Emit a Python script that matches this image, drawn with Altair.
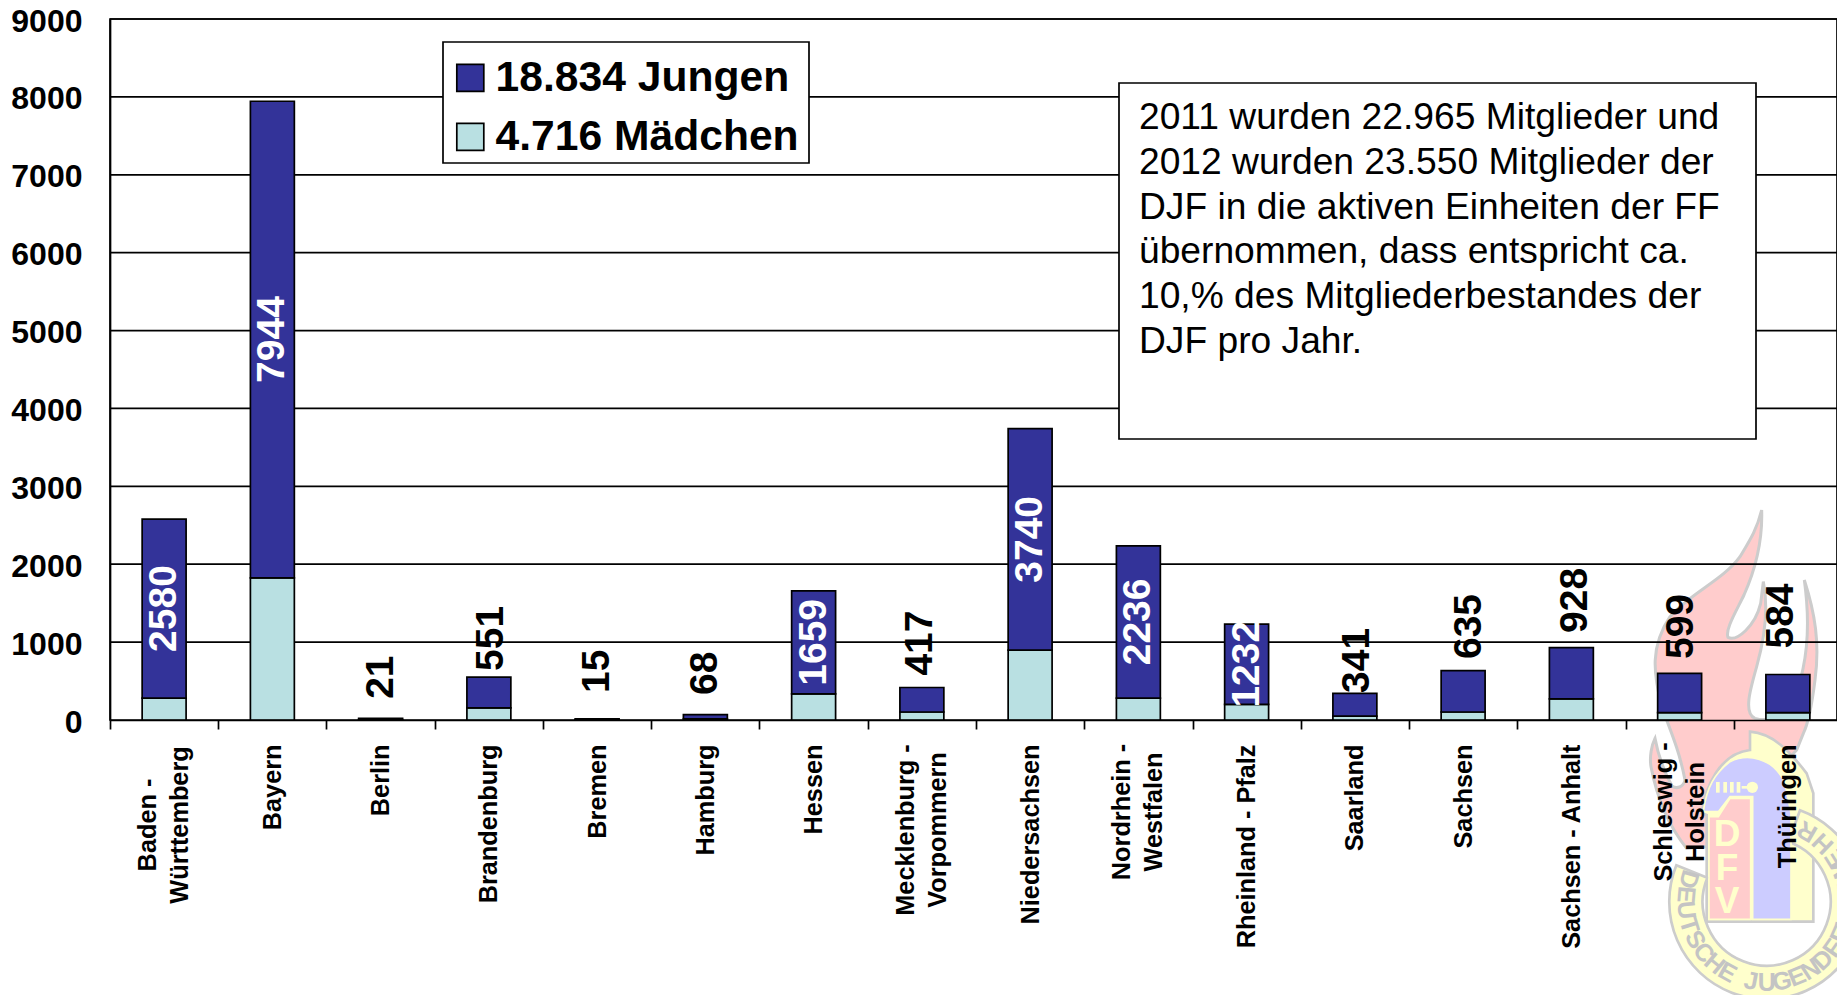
import base64
import math
import altair as alt
import pandas as pd

FONT = "Liberation Sans"

categories = ["Baden - Württemberg", "Bayern", "Berlin", "Brandenburg", "Bremen", "Hamburg",
              "Hessen", "Mecklenburg - Vorpommern", "Niedersachsen", "Nordrhein - Westfalen",
              "Rheinland - Pfalz", "Saarland", "Sachsen", "Sachsen - Anhalt",
              "Schleswig - Holstein", "Thüringen"]
totals = [2580, 7944, 21, 551, 15, 68, 1659, 417, 3740, 2236, 1232, 341, 635, 928, 599, 584]
girls = [282, 1825, 5, 155, 3, 15, 335, 103, 898, 282, 201, 51, 103, 270, 94, 94]
outside_label_center = {"Berlin": 550, "Brandenburg": 1048, "Bremen": 625, "Hamburg": 600,
                        "Mecklenburg - Vorpommern": 988, "Saarland": 765, "Sachsen": 1200,
                        "Sachsen - Anhalt": 1535, "Schleswig - Holstein": 1200, "Thüringen": 1335}
outside_label_nudge = {"Brandenburg": 2, "Mecklenburg - Vorpommern": -2, "Saarland": 2, "Sachsen": 6,
                       "Sachsen - Anhalt": 3.5, "Schleswig - Holstein": 1, "Thüringen": -7}
y_ticks = [0, 1000, 2000, 3000, 4000, 5000, 6000, 7000, 8000, 9000]
series = ["18.834 Jungen", "4.716 Mädchen"]
note_lines = ["2011 wurden 22.965 Mitglieder und", "2012 wurden 23.550 Mitglieder der",
              "DJF in die aktiven Einheiten der FF", "übernommen, dass entspricht ca.",
              "10,% des Mitgliederbestandes der", "DJF pro Jahr."]

boys = [t - g for t, g in zip(totals, girls)]
rows = []
for c, b, g in zip(categories, boys, girls):
    rows.append({"cat": c, "series": series[1], "v": g, "o": 0})
    rows.append({"cat": c, "series": series[0], "v": b, "o": 1})
bars_df = pd.DataFrame(rows)

labels_df = pd.DataFrame({"cat": categories, "total": totals, "girls": girls})
labels_df["mid"] = (labels_df.total + labels_df.girls) / 2
inside_df = labels_df[~labels_df.cat.isin(outside_label_center)]
outside_df = labels_df[labels_df.cat.isin(outside_label_center)].copy()
outside_df["pos"] = outside_df.cat.map(outside_label_center)

OX, OY = 110, 19
x_scale = alt.Scale(domain=categories, range=[0, 1732], paddingInner=0.594, paddingOuter=0.297)
y_scale = alt.Scale(domain=[0, 9000], nice=False)
LW = 1.7

two_line = {"Baden - Württemberg": 825, "Mecklenburg - Vorpommern": 830,
            "Nordrhein - Westfalen": 812, "Schleswig - Holstein": 812}
hidden = "[" + ",".join(f"'{c}'" for c in two_line) + "]"

x_axis = alt.Axis(
    tickOffset=-54.125, labelOffset=54.125, tickSize=9, tickWidth=LW, tickColor="black", domainColor="black",
    domainWidth=LW, labelAngle=270, labelAlign="right", labelBaseline="middle",
    labelFont=FONT, labelFontWeight="bold", labelFontSize=25.3, labelColor="black",
    labelPadding=15, labelLimit=400, labelOverlap=False, grid=False, zindex=1,
    labelExpr=f"indexof({hidden}, datum.label) < 0 ? datum.label : ''",
)
y_axis = alt.Axis(
    values=y_ticks, tickSize=0, domainColor="black", domainWidth=LW, labelPadding=28, labelOffset=2,
    labelFont=FONT, labelFontWeight="bold", labelFontSize=32, labelColor="black",
    grid=False, format="d", zindex=1,
)

# ---- watermark emblem (shapes only); its letters are real text further below
CX, CY, R_OUT, R_IN = 380, 515, 292, 192


def pt(phi, r):
    a = math.radians(phi)
    return CX + r * math.sin(a), CY + r * math.cos(a)


a0, a1 = -112, 160
p1, p2, p3, p4 = pt(a0, R_OUT), pt(a1, R_OUT), pt(a1, R_IN), pt(a0, R_IN)
ring = (f"M{p1[0]:.0f} {p1[1]:.0f} A{R_OUT} {R_OUT} 0 1 0 {p2[0]:.0f} {p2[1]:.0f} "
        f"L{p3[0]:.0f} {p3[1]:.0f} A{R_IN} {R_IN} 0 1 1 {p4[0]:.0f} {p4[1]:.0f} Z")
flame = ("M365 30 C368 120 350 200 312 285 C285 340 255 390 264 412 C290 425 345 380 362 310 L370 245 "
         "C385 320 375 410 350 500 C330 570 310 640 345 655 C400 670 440 640 470 580 "
         "C495 500 515 400 493 240 C525 340 540 430 525 540 C515 620 500 680 490 700 L470 750 "
         "L200 1040 L140 1045 C80 970 50 890 33 800 C28 770 35 735 45 715 C55 770 75 820 96 858 "
         "C110 868 130 862 135 840 C120 760 95 700 65 620 C40 520 30 440 90 350 C150 280 250 240 300 170 "
         "C330 120 350 90 365 30 Z")
shield = "M330 695 C400 700 450 755 500 820 L520 880 L520 1265 L200 1265 L200 945 L185 940 C195 860 240 760 330 750 Z"
blue = ("M190 935 C200 860 225 820 270 785 C320 760 400 770 435 850 L453 940 L453 1258 L338 1258 "
        "L338 890 L270 890 L235 935 Z")
pink = "M207 950 L235 950 L270 895 L332 895 L332 1258 L207 1258 Z"
dashes = "".join(f'<rect x="{x}" y="846" width="11" height="32" fill="#FFFFCC"/>' for x in (228, 250, 270, 290))
svg = f"""<svg xmlns="http://www.w3.org/2000/svg" width="205" height="495" viewBox="0 0 615 1485">
<path d="{flame}" fill="#FFCCCC" stroke="#CCCCCC" stroke-width="9"/>
<path d="{shield}" fill="#FFFFCC" stroke="#CCCCCC" stroke-width="8"/>
<g transform="translate(0,690)"><path d="{ring}" fill="#FFFFCC" stroke="#CCCCCC" stroke-width="8"/></g>
<path d="{blue}" fill="#CCCCFF" stroke="#FFFFCC" stroke-width="5"/>
<path d="{pink}" fill="#FFCCCC" stroke="#FFFFCC" stroke-width="5"/>
{dashes}<rect x="305" y="858" width="20" height="8" fill="#FFFFCC"/><circle cx="337" cy="862" r="17" fill="#FFFFCC"/>
</svg>"""
uri = "data:image/svg+xml;base64," + base64.b64encode(svg.encode()).decode()
logo = alt.Chart(pd.DataFrame({"u": [uri]})).mark_image(
    width=205, height=495, align="left", baseline="top"
).encode(url="u:N", x=alt.value(1640 - OX), y=alt.value(500 - OY))

logo_text_layers = []
ring_letters = list("DEUTSCHE") + list("JUGENDFEUERWEHR")
ring_angles = [-106, -95, -84, -73, -62, -51, -40, -29, -11, 0, 11, 22, 33, 44, 55, 66, 77, 88, 99, 110, 122, 136, 150]
for ch, phi in zip(ring_letters, ring_angles):
    px, py = pt(phi, 243)
    sx = 1640 + px / 3 - OX
    sy = 730 + py / 3 - OY
    logo_text_layers.append(
        alt.Chart(pd.DataFrame({"t": [ch]})).mark_text(
            font=FONT, fontWeight="bold", fontSize=25, color="#C4C4C4", angle=(-phi) % 360,
            align="center", baseline="middle"
        ).encode(text="t:N", x=alt.value(sx), y=alt.value(sy))
    )
for ch, sy in zip("DFV", (835, 869, 902)):
    logo_text_layers.append(
        alt.Chart(pd.DataFrame({"t": [ch]})).mark_text(
            font=FONT, fontWeight="bold", fontSize=37, color="#FFFFCC", align="center", baseline="middle"
        ).encode(text="t:N", x=alt.value(1727 - OX), y=alt.value(sy - OY))
    )

# ---- grid
grid = alt.Chart(pd.DataFrame({"v": y_ticks[1:]})).mark_rule(color="black", strokeWidth=LW).encode(
    y=alt.Y("v:Q", scale=y_scale, axis=y_axis, title=None)
)

# ---- bars
bars = alt.Chart(bars_df).mark_bar(stroke="black", strokeWidth=LW).encode(
    x=alt.X("cat:N", scale=x_scale, title=None, axis=x_axis),
    y=alt.Y("v:Q", stack="zero", scale=y_scale, title=None, axis=y_axis),
    color=alt.Color("series:N", scale=alt.Scale(domain=series, range=["#333399", "#B9E0E2"]), legend=alt.Legend(
        orient="none", legendX=339, legendY=37.5, title=None, symbolType="square", symbolSize=729,
        symbolStrokeColor="black", symbolStrokeWidth=LW, labelFont=FONT, labelFontWeight="bold",
        labelFontSize=42.6, labelColor="black", labelOffset=4, labelLimit=500, padding=0, rowPadding=16,
    )),
    order=alt.Order("o:Q"),
)

legend_box = alt.Chart(pd.DataFrame({"a": [1]})).mark_rect(fill="white", stroke="black", strokeWidth=LW).encode(
    x=alt.value(443 - OX), x2=alt.value(809 - OX), y=alt.value(42 - OY), y2=alt.value(163 - OY)
)

inside = alt.Chart(inside_df).mark_text(
    font=FONT, fontWeight="bold", fontSize=39, color="white", angle=270, align="center", baseline="middle"
).encode(x=alt.X("cat:N", scale=x_scale, axis=x_axis, title=None),
         y=alt.Y("mid:Q", scale=y_scale, axis=y_axis, title=None),
         text=alt.Text("total:Q", format="d"))

outside_layers = []
for c in outside_df.cat:
    # in a text rotated by 270 degrees, dy moves the label sideways on screen
    outside_layers.append(
        alt.Chart(outside_df[outside_df.cat == c]).mark_text(
            font=FONT, fontWeight="bold", fontSize=39, color="black", angle=270, align="center",
            baseline="middle", dy=outside_label_nudge.get(c, 0)
        ).encode(x=alt.X("cat:N", scale=x_scale, axis=x_axis, title=None),
                 y=alt.Y("pos:Q", scale=y_scale, axis=y_axis, title=None),
                 text=alt.Text("total:Q", format="d"))
    )

cat_layers = []
for c, centre in two_line.items():
    cat_layers.append(
        alt.Chart(pd.DataFrame({"cat": [c], "t": [c.replace(" - ", " -\n")]})).mark_text(
            font=FONT, fontWeight="bold", fontSize=25.3, color="black", angle=270, align="center",
            baseline="middle", lineBreak="\n", lineHeight=32, dy=-16
        ).encode(x=alt.X("cat:N", scale=x_scale, axis=x_axis, title=None), y=alt.value(centre - OY), text="t:N")
    )

# ---- note box
box = alt.Chart(pd.DataFrame({"a": [1]})).mark_rect(fill="white", stroke="black", strokeWidth=LW).encode(
    x=alt.value(1119 - OX), x2=alt.value(1756 - OX), y=alt.value(83 - OY), y2=alt.value(439 - OY)
)
note = alt.Chart(pd.DataFrame({"t": ["\n".join(note_lines)]})).mark_text(
    font=FONT, fontSize=37.2, color="black", align="left", baseline="alphabetic", lineBreak="\n", lineHeight=44.8
).encode(x=alt.value(1139 - OX), y=alt.value(129 - OY), text="t:N")

chart = alt.layer(logo, *logo_text_layers, grid, legend_box, bars, inside, *outside_layers, *cat_layers, box, note).properties(
    width=1727, height=701,
    autosize=alt.AutoSizeParams(type="none"),
    padding={"left": 102, "top": 11, "right": 0, "bottom": 275},
    background="white",
).configure_view(stroke="black", strokeWidth=LW)

chart.save("out.html", embed_options={"renderer": "svg", "actions": False})
